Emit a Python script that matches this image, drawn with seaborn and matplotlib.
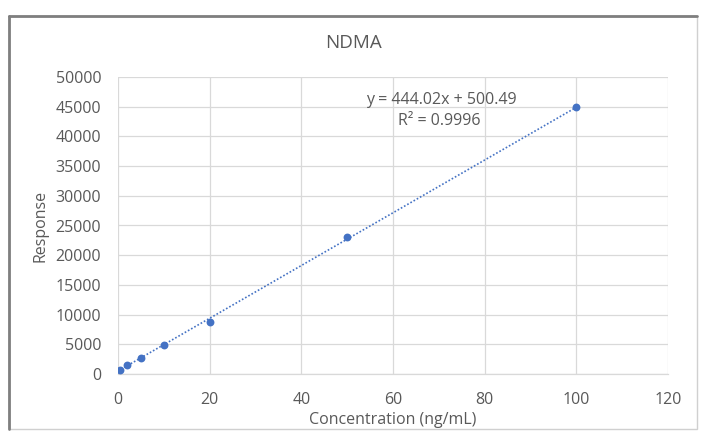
import numpy as np
import pandas as pd
import matplotlib
matplotlib.use("Agg")
import matplotlib.pyplot as plt
import seaborn as sns
from matplotlib.patches import Rectangle

concentration = [0.5, 2, 5, 10, 20, 50, 100]
response = [650, 1450, 2700, 4800, 8700, 23100, 44900]
slope = 444.02
intercept = 500.49
r2_text = "R² = 0.9996"
eq_text = "y = 444.02x + 500.49"
x_ticks = [0, 20, 40, 60, 80, 100, 120]
y_ticks = list(range(0, 50001, 5000))

sns.set_theme(style="white")
plt.rcParams['font.family'] = ['Open Sans', 'DejaVu Sans']

df = pd.DataFrame({"Concentration": concentration, "Response": response})
trend_x = [0, 100]
trend_df = pd.DataFrame({"x": trend_x, "y": [slope * v + intercept for v in trend_x]})

fig = plt.figure(figsize=(7.05, 4.33), dpi=100)
ax = fig.add_axes([118/705, 1-374/433, 550/705, 297/433])

blue = "#4472C4"
grey_text = "#595959"
grid_c = "#D9D9D9"

sns.lineplot(data=trend_df, x="x", y="y", ax=ax, color=blue, lw=1.2,
             linestyle=(0, (1, 1.2)), zorder=2)
sns.scatterplot(data=df, x="Concentration", y="Response", ax=ax, color=blue,
                s=32, edgecolor=blue, linewidth=0, zorder=3)

ax.set_xlim(0, 120)
ax.set_ylim(0, 50000)
ax.set_xticks(x_ticks)
ax.set_yticks(y_ticks)
ax.set_xticklabels([str(v) for v in x_ticks])
ax.set_yticklabels([str(v) for v in y_ticks])
ax.grid(True, color=grid_c, lw=0.9)
for s in ["top", "right", "left"]:
    ax.spines[s].set_visible(False)
ax.spines["bottom"].set_color(grid_c)
ax.spines["bottom"].set_linewidth(0.9)
ax.tick_params(axis="both", colors=grey_text, labelsize=11.5, length=0)
ax.tick_params(axis="x", pad=13)
ax.tick_params(axis="y", pad=12)
ax.set_xlabel("Concentration (ng/mL)", color=grey_text, fontsize=11.5, labelpad=2.5)
ax.set_ylabel("Response", color=grey_text, fontsize=11.5, labelpad=5)

fig.text(354/705, 1-43/433, "NDMA", ha="center", va="center", fontsize=13.5, color=grey_text)
ax.text(70.5, 46200, eq_text, ha="center", va="center", fontsize=11.5, color=grey_text)
ax.text(70.0, 42600, r2_text, ha="center", va="center", fontsize=11.5, color=grey_text)

# outer chart border
fig.patches.append(Rectangle((9/705, 1-429/433), (697-9)/705, (429-16)/433,
                             transform=fig.transFigure, fill=False,
                             edgecolor="#D0D0D0", lw=1))
fig.add_artist(plt.Line2D([9/705, 9/705], [1-429/433, 1-16/433], transform=fig.transFigure,
                          color="#7F7F7F", lw=2))
fig.add_artist(plt.Line2D([9/705, 697/705], [1-16/433, 1-16/433], transform=fig.transFigure,
                          color="#7F7F7F", lw=2))

fig.savefig("out.png", dpi=100, facecolor="white")
